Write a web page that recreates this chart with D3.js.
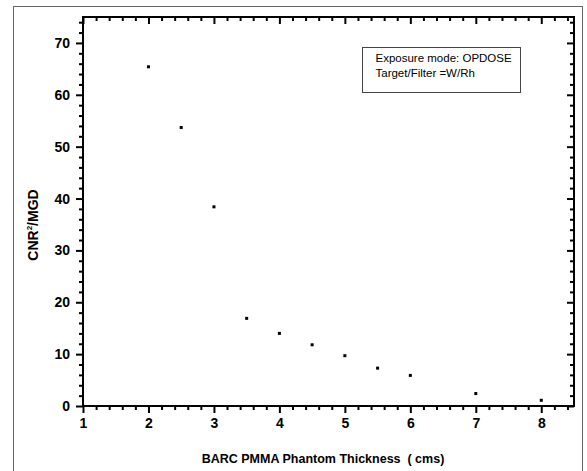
<!DOCTYPE html>
<html>
<head>
<meta charset="utf-8">
<script src="https://cdn.jsdelivr.net/npm/d3@7"></script>
<style>
  html, body { margin: 0; padding: 0; background: #fff; }
  svg { display: block; font-family: "Liberation Sans", Arial, sans-serif; }
</style>
</head>
<body>
<svg id="chart" width="587" height="471"></svg>
<script>
// PMMA phantom thickness (cm) and the corresponding CNR^2/MGD figure of merit
const thickness = [2, 2.5, 3, 3.5, 4, 4.5, 5, 5.5, 6, 7, 8];
const cnr2mgd   = [65.4, 53.7, 38.4, 16.9, 14.0, 11.8, 9.7, 7.3, 5.9, 2.4, 1.1];

const xMajorTicks = [1, 2, 3, 4, 5, 6, 7, 8];
const yMajorTicks = [0, 10, 20, 30, 40, 50, 60, 70];
const legendLines = ["Exposure mode: OPDOSE", "Target/Filter =W/Rh"];

const svg = d3.select("#chart");
const plot = { left: 83, top: 17, right: 574, bottom: 406 };

const x = d3.scaleLinear().domain([1, 8.5]).range([plot.left, plot.right]);
const y = d3.scaleLinear().domain([0, 75]).range([plot.bottom, plot.top]);

const xMinor = d3.range(1, 8.5001, 0.2).map(v => +v.toFixed(2)).filter(v => !xMajorTicks.includes(v));
const yMinor = d3.range(0, 75.001, 2).filter(v => v % 10 !== 0);

// Outer frame around the figure
svg.append("rect")
  .attr("x", 13.5).attr("y", 6.5)
  .attr("width", 569).attr("height", 480)
  .attr("fill", "none").attr("stroke", "#666").attr("stroke-width", 1);

function styleAxis(g) {
  g.select(".domain").remove();
  g.selectAll("line").attr("stroke", "#000").attr("stroke-width", 2);
  g.selectAll("text")
    .attr("fill", "#000")
    .style("font-size", "14px")
    .style("font-weight", "bold");
}

// Bottom axis: labelled major ticks pointing out, minor ticks shorter
svg.append("g")
  .attr("transform", `translate(0,${plot.bottom})`)
  .call(d3.axisBottom(x).tickValues(xMajorTicks).tickSize(7).tickPadding(5).tickFormat(d3.format("d")))
  .call(styleAxis);
svg.append("g")
  .attr("transform", `translate(0,${plot.bottom})`)
  .call(d3.axisBottom(x).tickValues(xMinor).tickSize(4).tickFormat(""))
  .call(styleAxis);

// Left axis
svg.append("g")
  .attr("transform", `translate(${plot.left},0)`)
  .call(d3.axisLeft(y).tickValues(yMajorTicks).tickSize(7).tickPadding(6).tickFormat(d3.format("d")))
  .call(styleAxis);
svg.append("g")
  .attr("transform", `translate(${plot.left},0)`)
  .call(d3.axisLeft(y).tickValues(yMinor).tickSize(4).tickFormat(""))
  .call(styleAxis);

// Top and right mirror axes with inward ticks
svg.append("g")
  .attr("transform", `translate(0,${plot.top})`)
  .call(d3.axisTop(x).tickValues(xMajorTicks).tickSize(-7).tickFormat(""))
  .call(styleAxis);
svg.append("g")
  .attr("transform", `translate(0,${plot.top})`)
  .call(d3.axisTop(x).tickValues(xMinor).tickSize(-4).tickFormat(""))
  .call(styleAxis);
svg.append("g")
  .attr("transform", `translate(${plot.right},0)`)
  .call(d3.axisRight(y).tickValues(yMajorTicks).tickSize(-7).tickFormat(""))
  .call(styleAxis);
svg.append("g")
  .attr("transform", `translate(${plot.right},0)`)
  .call(d3.axisRight(y).tickValues(yMinor).tickSize(-4).tickFormat(""))
  .call(styleAxis);

// Plot frame
svg.append("rect")
  .attr("x", plot.left).attr("y", plot.top)
  .attr("width", plot.right - plot.left).attr("height", plot.bottom - plot.top)
  .attr("fill", "none").attr("stroke", "#000").attr("stroke-width", 2);

// Data points
svg.append("g").selectAll("rect")
  .data(thickness.map((t, i) => ({ t, v: cnr2mgd[i] })))
  .join("rect")
  .attr("x", d => x(d.t) - 1.5)
  .attr("y", d => y(d.v) - 1.5)
  .attr("width", 3).attr("height", 3)
  .attr("fill", "#000");

// Legend box
const lg = svg.append("g");
lg.append("rect")
  .attr("x", 362.5).attr("y", 47.5)
  .attr("width", 158).attr("height", 45)
  .attr("fill", "#fff").attr("stroke", "#444").attr("stroke-width", 1);
lg.selectAll("text")
  .data(legendLines)
  .join("text")
  .attr("x", 375.5)
  .attr("y", (d, i) => 62 + i * 15)
  .style("font-size", "11.5px")
  .attr("fill", "#000")
  .text(d => d);

// Axis titles
svg.append("text")
  .attr("x", 323).attr("y", 463)
  .attr("text-anchor", "middle")
  .style("font-size", "12.5px").style("font-weight", "bold")
  .attr("xml:space", "preserve")
  .text("BARC PMMA Phantom Thickness  ( cms)");

const yt = svg.append("text")
  .attr("transform", "translate(38,225) rotate(-90)")
  .attr("text-anchor", "middle")
  .style("font-size", "14px").style("font-weight", "bold");
yt.append("tspan").text("CNR");
yt.append("tspan").attr("dy", -6).style("font-size", "8px").text("2");
yt.append("tspan").attr("dy", 6).text("/MGD");
</script>
</body>
</html>
